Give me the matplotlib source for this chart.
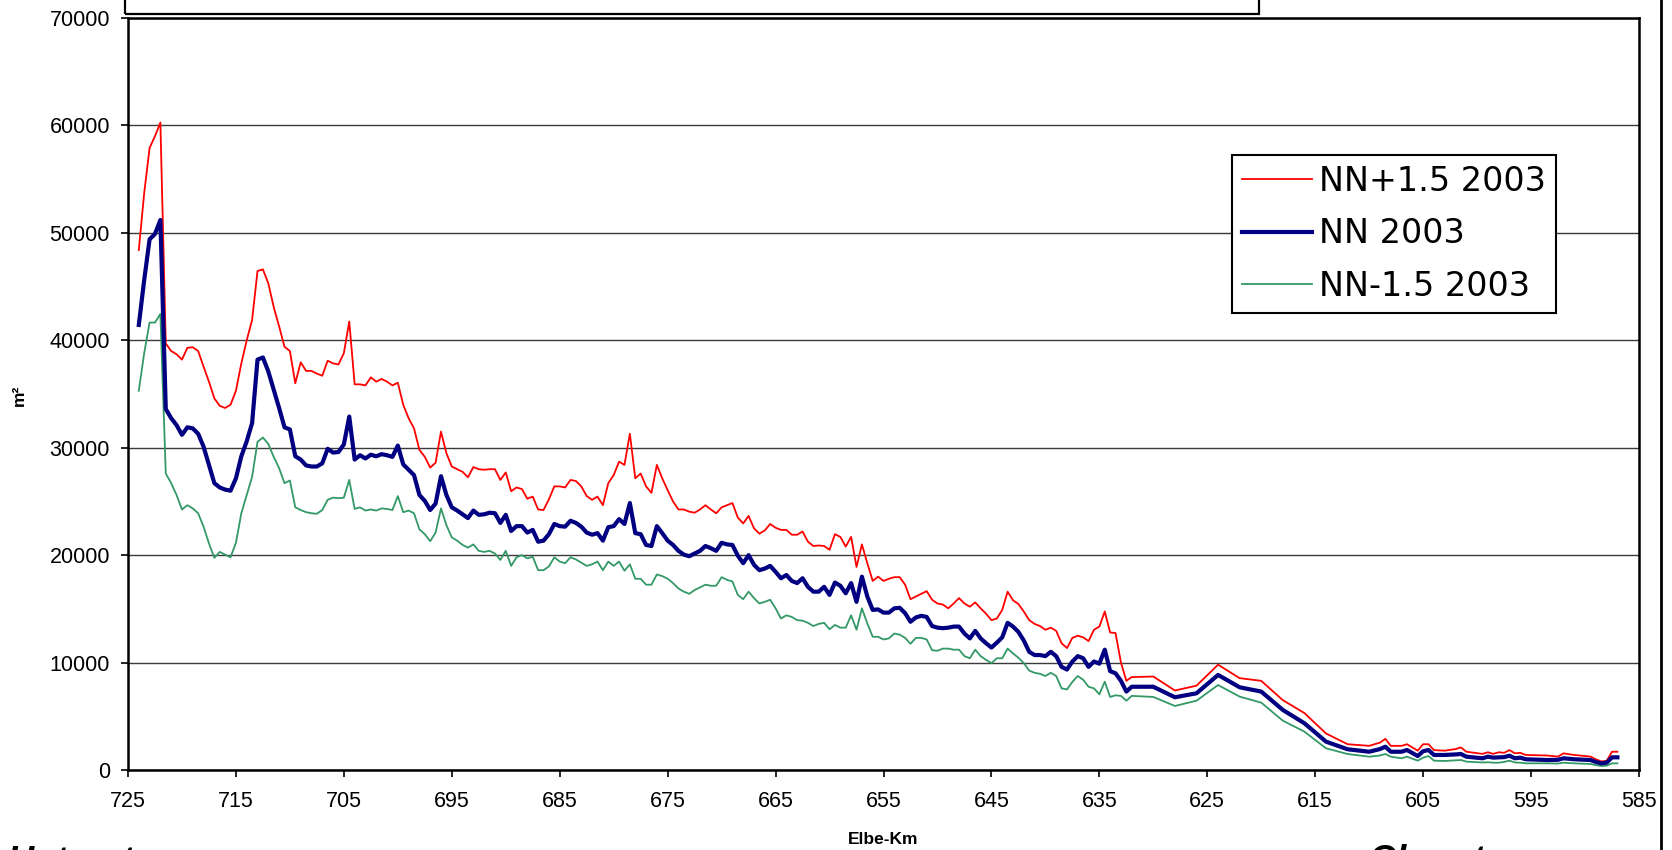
import matplotlib
matplotlib.use("Agg")
import matplotlib.pyplot as plt
from matplotlib.patches import Rectangle
from matplotlib.lines import Line2D

# ---------------- data (Elbe-Km, areas in m²) ----------------
km = [724.0, 723.5, 723.0, 722.5, 722.0, 721.5, 721.0, 720.5, 720.0, 719.5,
      719.0, 718.5, 718.0, 717.5, 717.0, 716.5, 716.0, 715.5, 715.0, 714.5,
      714.0, 713.5, 713.0, 712.5, 712.0, 711.5, 711.0, 710.5, 710.0, 709.5,
      709.0, 708.5, 708.0, 707.5, 707.0, 706.5, 706.0, 705.5, 705.0, 704.5,
      704.0, 703.5, 703.0, 702.5, 702.0, 701.5, 701.0, 700.5, 700.0, 699.5,
      699.0, 698.5, 698.0,
      697.5, 697.0, 696.5, 696.0, 695.5, 695.0, 694.5, 694.0, 693.5, 693.0,
      692.5, 692.0, 691.5, 691.0, 690.5, 690.0, 689.5, 689.0, 688.5, 688.0,
      687.5, 687.0, 686.5, 686.0, 685.5, 685.0, 684.5, 684.0, 683.5, 683.0,
      682.5, 682.0, 681.5, 681.0, 680.5, 680.0, 679.5, 679.0, 678.5, 678.0,
      677.5, 677.0, 676.5, 676.0, 675.5, 675.0, 674.5, 674.0, 673.5, 673.0,
      672.5, 672.0, 671.5, 671.0, 670.5, 670.0, 669.5, 669.0, 668.5, 668.0,
      667.5, 667.0, 666.5, 666.0, 665.5, 665.0, 664.5, 664.0, 663.5, 663.0,
      662.5, 662.0, 661.5, 661.0, 660.5, 660.0, 659.5, 659.0, 658.5, 658.0,
      657.5, 657.0, 656.5, 656.0, 655.5, 655.0, 654.5, 654.0, 653.5, 653.0,
      652.5, 652.0, 651.5, 651.0, 650.5, 650.0, 649.5, 649.0, 648.5, 648.0,
      647.5, 647.0, 646.5, 646.0, 645.5, 645.0, 644.5, 644.0, 643.5, 643.0,
      642.5, 642.0, 641.5, 641.0, 640.5, 640.0, 639.5, 639.0, 638.5, 638.0,
      637.5, 637.0, 636.5, 636.0, 635.5, 635.0, 634.5, 634.0, 633.5, 633.0,
      632.5, 632.0,
      630.0, 628.0, 626.0, 624.0, 622.0, 620.0, 618.0, 616.0, 614.0, 612.0,
      610.0, 609.0, 608.5, 608.0, 607.0, 606.5, 605.5, 605.0, 604.5, 604.0,
      603.0, 602.0, 601.5, 601.0, 599.5, 599.0, 598.5, 598.0, 597.5, 597.0,
      596.5, 596.0, 595.5, 593.5, 592.5, 592.0, 591.0, 589.5, 589.0, 588.5,
      588.0, 587.5, 587.0]

nn_plus = [48400, 53700, 57900, 59000, 60270, 39700, 39000, 38700, 38200, 39300,
           39350, 39000, 37550, 36150, 34600, 33900, 33700, 34000, 35300, 37850,
           40000, 41900, 46450, 46600, 45300, 43100, 41300, 39400, 39000, 36000,
           37950, 37150, 37150, 36900, 36700, 38100, 37850, 37750, 38800, 41750,
           35900, 35900, 35800, 36550, 36150, 36400, 36150, 35800, 36050, 34000,
           32750, 31800, 29800,
           29150, 28150, 28600, 31500, 29500, 28250, 28000, 27750, 27250, 28200,
           28000, 27950, 28000, 28000, 27000, 27700, 25950, 26300, 26150, 25250,
           25450, 24250, 24200, 25200, 26400, 26400, 26300, 27000, 26900, 26400,
           25500, 25150, 25450, 24650, 26700, 27450, 28700, 28400, 31300, 27150,
           27600, 26400, 25800, 28400, 27150, 26050, 25000, 24250, 24250, 24050,
           23950, 24250, 24650, 24250, 23900, 24450, 24650, 24850, 23500, 22950,
           23650, 22500, 22000, 22300, 22900, 22550, 22350, 22350, 21900, 21900,
           22200, 21250, 20850, 20900, 20850, 20500, 21950, 21700, 20800, 21700,
           18900, 21000, 19250, 17600, 18000, 17600, 17800, 17950, 17950, 17250,
           15900, 16150, 16400, 16650, 15850, 15500, 15400, 15050, 15500, 16000,
           15500, 15200, 15600, 15050, 14550, 13950, 14100, 14900, 16600, 15800,
           15450, 14750, 13950, 13600, 13400, 13050, 13250, 12950, 11800, 11350,
           12300, 12500, 12350, 12000, 13050, 13350, 14750, 12800, 12750, 10000,
           8300, 8650,
           8700, 7400, 7850, 9800, 8550, 8300, 6500, 5300, 3400, 2400,
           2250, 2550, 2900, 2250, 2250, 2400, 1800, 2400, 2400, 1850,
           1800, 1950, 2100, 1700, 1500, 1650, 1500, 1650, 1600, 1850,
           1550, 1600, 1400, 1350, 1250, 1550, 1400, 1250, 1000, 800,
           850, 1700, 1700]

nn = [41430, 45600, 49400, 49900, 51200, 33600, 32750, 32100, 31200, 31900,
      31800, 31300, 30100, 28400, 26700, 26300, 26100, 26000, 27150, 29200,
      30600, 32300, 38200, 38400, 37100, 35400, 33700, 31900, 31700, 29200,
      28900, 28350, 28250, 28250, 28550, 29900, 29550, 29600, 30300, 32900,
      28900, 29300, 29000, 29350, 29200, 29400, 29300, 29150, 30200, 28450,
      27950, 27450, 25600,
      25050, 24200, 24800, 27350, 25600, 24450, 24150, 23800, 23450, 24150,
      23750, 23800, 23950, 23900, 23000, 23750, 22250, 22700, 22700, 22100,
      22350, 21250, 21350, 21950, 22900, 22700, 22650, 23200, 23000, 22650,
      22100, 21900, 22050, 21350, 22600, 22700, 23350, 22900, 24850, 22050,
      21950, 20950, 20850, 22700, 22050, 21350, 20950, 20400, 20050, 19900,
      20150, 20400, 20850, 20650, 20400, 21150, 21000, 20950, 19950, 19250,
      20000, 19100, 18600, 18750, 19000, 18450, 17850, 18150, 17600, 17400,
      17850, 17050, 16600, 16600, 17050, 16300, 17450, 17150, 16450, 17400,
      15650, 18000, 16150, 14900, 14950, 14650, 14650, 15050, 15100, 14600,
      13800, 14200, 14350, 14250, 13400, 13250, 13200, 13250, 13350, 13350,
      12700, 12250, 12950, 12250, 11800, 11400, 11850, 12350, 13700, 13350,
      12850, 12050, 11000, 10700, 10700, 10600, 11000, 10600, 9600, 9350,
      10100, 10600, 10400, 9600, 10100, 9900, 11200, 9200, 9000, 8300,
      7300, 7750,
      7750, 6770, 7140, 8850, 7700, 7300, 5590, 4350, 2640, 1930,
      1700, 1950, 2170, 1700, 1700, 1860, 1300, 1750, 1860, 1400,
      1400, 1450, 1490, 1240, 1090, 1240, 1150, 1180, 1200, 1330,
      1090, 1150, 1000, 930, 950, 1090, 1000, 930, 750, 620,
      680, 1180, 1180]

nn_minus = [35300, 38800, 41650, 41650, 42450, 27600, 26700, 25600, 24250, 24650,
            24350, 23900, 22650, 21100, 19750, 20300, 20050, 19800, 21150, 23900,
            25600, 27300, 30550, 30950, 30350, 29150, 28100, 26700, 26950, 24450,
            24200, 24000, 23900, 23850, 24200, 25150, 25350, 25300, 25350, 27000,
            24300, 24450, 24150, 24250, 24150, 24350, 24300, 24200, 25500, 24000,
            24150, 23900, 22400,
            21950, 21300, 22100, 24350, 22800, 21650, 21350, 20950, 20700, 21000,
            20400, 20300, 20400, 20150, 19550, 20400, 19000, 19800, 20000, 19700,
            19850, 18600, 18600, 18950, 19800, 19400, 19250, 19800, 19600, 19300,
            19000, 19150, 19400, 18600, 19400, 19000, 19400, 18550, 19150, 17800,
            17800, 17250, 17250, 18200, 18050, 17800, 17400, 16900, 16600, 16400,
            16750, 17000, 17250, 17150, 17150, 17950, 17700, 17550, 16300, 15900,
            16600, 16000, 15500, 15650, 15850, 15050, 14100, 14400, 14250, 13950,
            13900, 13700, 13400, 13600, 13700, 13100, 13500, 13250, 13250, 14400,
            13050, 15050, 13650, 12400, 12400, 12150, 12250, 12700, 12600, 12300,
            11750, 12300, 12300, 12150, 11150, 11100, 11300, 11300, 11200, 11200,
            10600, 10400, 11200, 10600, 10250, 9950, 10400, 10400, 11300, 10850,
            10450, 9950, 9250, 9050, 8950, 8750, 9050, 8750, 7600, 7500,
            8200, 8750, 8400, 7750, 7600, 7050, 8220, 6800, 6950, 6900,
            6450, 6900,
            6800, 5960, 6450, 7910, 6830, 6270, 4590, 3570, 2020, 1490,
            1240, 1350, 1490, 1240, 1090, 1240, 870, 1150, 1300, 870,
            840, 900, 930, 780, 700, 720, 680, 680, 750, 870,
            700, 680, 620, 620, 600, 680, 620, 560, 450, 370,
            400, 620, 620]

labels = ["NN+1.5 2003", "NN 2003", "NN-1.5 2003"]
x_ticks = [725, 715, 705, 695, 685, 675, 665, 655, 645, 635, 625, 615, 605, 595, 585]
y_ticks = [0, 10000, 20000, 30000, 40000, 50000, 60000, 70000]

# ---------------- figure ----------------
W, H = 1672, 850
fig = plt.figure(figsize=(W / 100, H / 100), dpi=100)
fig.patch.set_facecolor("white")
plt.rcParams["font.family"] = ["Liberation Sans", "DejaVu Sans"]

L, R, T, B = 128, 1639, 18, 770
ax = fig.add_axes([L / W, 1 - B / H, (R - L) / W, (B - T) / H])

ax.plot(km, nn_plus, color="#FF0000", lw=1.3, label=labels[0], zorder=3)
ax.plot(km, nn, color="#000080", lw=3.0, label=labels[1], zorder=4,
        solid_joinstyle="round")
ax.plot(km, nn_minus, color="#339966", lw=1.3, label=labels[2], zorder=3)

ax.set_xlim(725, 585)
ax.set_ylim(0, 70000)
ax.set_xticks(x_ticks)
ax.set_xticklabels([str(v) for v in x_ticks])
ax.set_yticks(y_ticks)
ax.set_yticklabels([str(v) for v in y_ticks])
ax.tick_params(axis="both", direction="out", length=5, width=1.2,
               labelsize=15.5, colors="black")
ax.tick_params(axis="y", pad=8)
ax.tick_params(axis="x", pad=10)

ax.grid(axis="y", color="#3a3a3a", lw=1.0, zorder=1)
ax.set_axisbelow(True)
for s in ax.spines.values():
    s.set_color("black")
    s.set_linewidth(1.8)

# axis titles
fig.text(883 / W, 1 - 839 / H, "Elbe-Km", ha="center", va="center",
         fontsize=12.5, fontweight="bold")
fig.text(19 / W, 1 - 395 / H, "m²", ha="center", va="center",
         fontsize=12.5, fontweight="bold", rotation=90)

# legend
leg = ax.legend(loc="upper left", bbox_to_anchor=(1232 / W, 1 - 155 / H),
                bbox_transform=fig.transFigure, frameon=True, fancybox=False,
                prop={"family": "DejaVu Sans", "size": 24},
                handlelength=2.1, handletextpad=0.2, labelspacing=0.58,
                borderpad=0.3, borderaxespad=0)
leg.get_frame().set_edgecolor("black")
leg.get_frame().set_linewidth(1.5)
leg.get_frame().set_facecolor("white")
leg.get_frame().set_alpha(1)

# top (cut-off) box
fig.patches.append(Rectangle((125 / W, 1 - 14 / H), (1259 - 125) / W, 0.05,
                             transform=fig.transFigure, fill=False,
                             edgecolor="black", lw=1.6))
# outer right border line
fig.add_artist(Line2D([1661 / W, 1661 / W], [0, 1], transform=fig.transFigure,
                      color="black", lw=2))

# slide text at the bottom, cut off by the image edge as in the reference
fig.text(8 / W, 1 - 845 / H, "Unterstrom", ha="left", va="top",
         fontsize=26, fontweight="bold", style="italic")
fig.text(1368 / W, 1 - 844 / H, "Oberstrom", ha="left", va="top",
         fontsize=26, fontweight="bold", style="italic")

fig.savefig("out.png", dpi=100, facecolor="white")
